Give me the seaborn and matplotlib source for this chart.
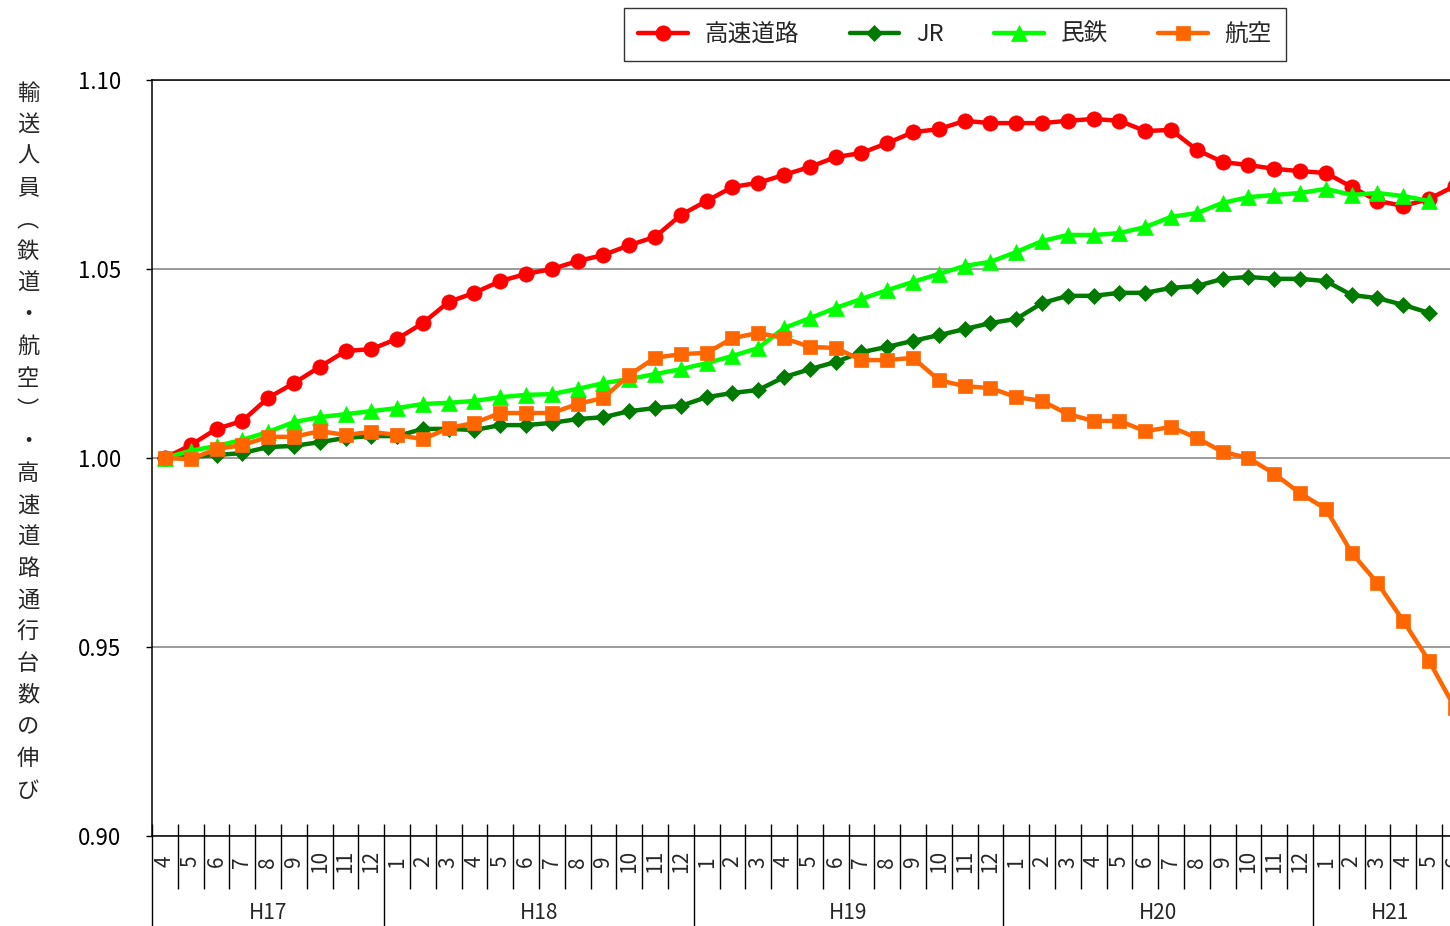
import numpy as np
import pandas as pd
import matplotlib
matplotlib.use("Agg")
import matplotlib.pyplot as plt
import seaborn as sns

# Fiscal-year groups and their months
years = ["H17", "H18", "H19", "H20", "H21"]
year_months = [
    list(range(4, 13)),
    list(range(1, 13)),
    list(range(1, 13)),
    list(range(1, 13)),
    list(range(1, 7)),
]

# Growth index (H17 April = 1.00)
expressway = [
    1.0000, 1.0034, 1.0077, 1.0098, 1.0159, 1.0198, 1.0241, 1.0283, 1.0288,
    1.0315, 1.0357, 1.0413, 1.0437, 1.0468, 1.0487, 1.0500, 1.0521, 1.0537, 1.0563, 1.0585, 1.0643,
    1.0680, 1.0717, 1.0728, 1.0749, 1.0770, 1.0796, 1.0807, 1.0833, 1.0862, 1.0870, 1.0892, 1.0886,
    1.0886, 1.0886, 1.0892, 1.0897, 1.0892, 1.0865, 1.0868, 1.0815, 1.0783, 1.0775, 1.0765, 1.0759,
    1.0754, 1.0717, 1.0680, 1.0667, 1.0685, 1.0720,
]
jr = [
    1.0000, 1.0003, 1.0008, 1.0013, 1.0029, 1.0032, 1.0042, 1.0053, 1.0058,
    1.0058, 1.0077, 1.0077, 1.0074, 1.0087, 1.0087, 1.0093, 1.0103, 1.0108, 1.0124, 1.0132, 1.0138,
    1.0161, 1.0172, 1.0180, 1.0214, 1.0235, 1.0254, 1.0280, 1.0294, 1.0310, 1.0325, 1.0341, 1.0357,
    1.0368, 1.0410, 1.0429, 1.0429, 1.0437, 1.0437, 1.0450, 1.0455, 1.0474, 1.0479, 1.0474, 1.0474,
    1.0468, 1.0431, 1.0423, 1.0405, 1.0384,
]
private_rail = [
    1.0000, 1.0019, 1.0032, 1.0048, 1.0069, 1.0095, 1.0108, 1.0116, 1.0124,
    1.0132, 1.0143, 1.0146, 1.0151, 1.0161, 1.0167, 1.0169, 1.0183, 1.0198, 1.0209, 1.0222, 1.0235,
    1.0251, 1.0270, 1.0291, 1.0344, 1.0370, 1.0397, 1.0421, 1.0444, 1.0466, 1.0487, 1.0508, 1.0519,
    1.0545, 1.0574, 1.0590, 1.0590, 1.0595, 1.0611, 1.0638, 1.0648, 1.0675, 1.0690, 1.0696, 1.0701,
    1.0712, 1.0696, 1.0701, 1.0693, 1.0680,
]
air = [
    1.0000, 0.9997, 1.0024, 1.0034, 1.0056, 1.0056, 1.0071, 1.0061, 1.0069,
    1.0061, 1.0050, 1.0079, 1.0093, 1.0119, 1.0119, 1.0119, 1.0143, 1.0159, 1.0220, 1.0265, 1.0275,
    1.0278, 1.0317, 1.0331, 1.0317, 1.0294, 1.0291, 1.0259, 1.0259, 1.0265, 1.0206, 1.0190, 1.0185,
    1.0161, 1.0151, 1.0116, 1.0098, 1.0098, 1.0071, 1.0082, 1.0053, 1.0016, 1.0000, 0.9958, 0.9907,
    0.9865, 0.9749, 0.9669, 0.9569, 0.9463, 0.9339,
]

series_names = ["高速道路", "JR", "民鉄", "航空"]
series_values = [expressway, jr, private_rail, air]
series_colors = ["#FF0000", "#007A00", "#00FF00", "#FF6600"]
series_markers = ["o", "D", "^", "s"]
series_msize = [11, 8, 12, 9.5]

y_ticks = [0.90, 0.95, 1.00, 1.05, 1.10]
y_title = "輸送人員︵鉄道・航空︶・高速道路通行台数の伸び"

month_labels = [str(m) for ms in year_months for m in ms]
n_cat = len(month_labels)

sns.set_style("white")
plt.rcParams["font.family"] = ["Noto Sans CJK JP", "DejaVu Sans"]

W, H = 1450, 926
fig = plt.figure(figsize=(W / 100, H / 100), dpi=100)
cat_w = 25.8
ax = fig.add_axes([152 / W, (H - 836) / H, n_cat * cat_w / W, 756 / H])

handles = []
for name, vals, col, mk, ms in zip(series_names, series_values, series_colors,
                                   series_markers, series_msize):
    df = pd.DataFrame({"x": np.arange(len(vals)), "y": vals})
    sns.lineplot(data=df, x="x", y="y", ax=ax, color=col, marker=mk,
                 markersize=ms, markeredgecolor=col, markeredgewidth=0.5,
                 linewidth=3.2, label=name, legend=False)
    handles.append(ax.lines[-1])

# Y axis
ax.set_ylim(0.90, 1.10)
ax.set_yticks(y_ticks)
ax.set_yticklabels([f"{v:.2f}" for v in y_ticks])
ax.yaxis.grid(True, color="#808080", linewidth=1.1)
ax.set_axisbelow(True)
ax.tick_params(axis="y", direction="out", length=4, width=1, pad=18,
               labelsize=16, colors="black", left=True)
ax.set_ylabel("")

# X axis: month labels, category dividers and year groups
ax.set_xlim(-0.5, n_cat - 0.5)
ax.set_xticks(np.arange(n_cat))
ax.set_xticklabels(month_labels, rotation=90)
ax.tick_params(axis="x", length=0, pad=18.5, labelsize=15)
plt.setp(ax.get_xticklabels(), va="center")
ax.set_xlabel("")

px = 1 / 756
starts = np.cumsum([0] + [len(m) for m in year_months])
group_edges = set((starts - 0.5).tolist())
trans = ax.get_xaxis_transform()
for k in range(n_cat + 1):
    xb = k - 0.5
    if xb in group_edges:
        ax.vlines(xb, -0.13, 12 * px, transform=trans, color="black",
                  linewidth=1, clip_on=False)
    else:
        ax.vlines(xb, -53 * px, 12 * px, transform=trans, color="black",
                  linewidth=1, clip_on=False)
for yr, s0, ms in zip(years, starts[:-1], year_months):
    ax.text(s0 + (len(ms) - 1) / 2, -77 * px, yr, transform=trans,
            ha="center", va="center", fontsize=15)

for side in ["left", "top", "bottom", "right"]:
    ax.spines[side].set_visible(True)
    ax.spines[side].set_color("black")
    ax.spines[side].set_linewidth(1.1)

# Vertical title, one character per line
for i, ch in enumerate(y_title):
    fig.text(28 / W, 1 - (93 + i * 31.7) / H, ch, ha="center", va="center",
             fontsize=16)

leg = fig.legend(handles, series_names, loc="center",
                 bbox_to_anchor=(955 / W, 1 - 34.5 / H), ncol=4,
                 frameon=True, fancybox=False, edgecolor="black",
                 fontsize=17, handlelength=2.1, handletextpad=0.7,
                 columnspacing=2.15, borderpad=0.62, numpoints=1)
leg.get_frame().set_linewidth(1.0)

fig.savefig("out.png", dpi=100)
